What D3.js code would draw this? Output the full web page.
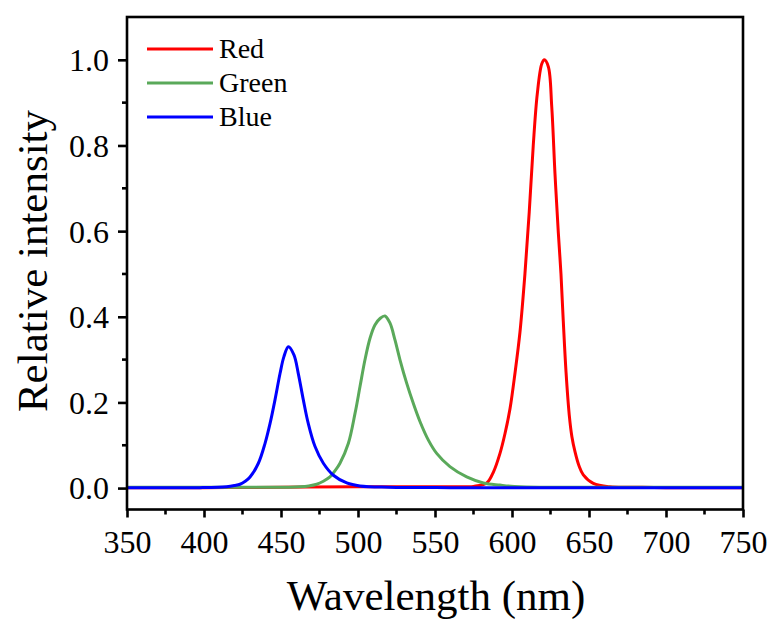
<!DOCTYPE html>
<html>
<head>
<meta charset="utf-8">
<script src="https://cdn.jsdelivr.net/npm/d3@7/dist/d3.min.js"></script>
<style>
  html, body { margin: 0; padding: 0; background: #fff; }
  svg { display: block; }
  text { font-family: "Liberation Serif", "Times New Roman", serif; fill: #000; }
</style>
</head>
<body>
<svg id="chart" width="772" height="623"></svg>
<script>
// Emission spectra of the three LED channels (normalised intensity)
const seriesNames = ["Red", "Green", "Blue"];
const seriesColors = ["#ff0000", "#5aa95a", "#0000ff"];

const redNm = [350, 400, 450, 500, 560, 575, 583.6, 588, 592.2, 595.5, 598.7, 602, 605.2, 608.4, 611.2, 613.8, 616.4, 619.3, 621,
  623.6, 625.8, 627.9, 630.1, 631.8, 633.3, 635.1, 637.2, 638.9, 640.9, 643.5, 646.3, 652.8, 663.6, 680, 700, 750];
const redI = [0.001, 0.001, 0.002, 0.003, 0.003, 0.004, 0.012, 0.038, 0.081, 0.128, 0.185, 0.27, 0.365, 0.50, 0.645, 0.80, 0.92, 0.99, 1.0,
  0.984, 0.891, 0.735, 0.595, 0.50, 0.39, 0.27, 0.17, 0.12, 0.085, 0.052, 0.031, 0.011, 0.003, 0.002, 0.001, 0.001];

const greenNm = [350, 400, 440, 455, 462.3, 468, 473.2, 477.5, 481.8, 485, 488.3, 493.7, 498.1, 501.3, 504.5, 507.8, 511, 514.3, 517.5,
  520.8, 524, 527.3, 531.6, 535.9, 540.3, 545.7, 551.1, 559.7, 570.6, 581.4, 592.2, 605.2, 650, 700, 750];
const greenI = [0.002, 0.002, 0.002, 0.002, 0.003, 0.005, 0.009, 0.016, 0.026, 0.04, 0.058, 0.104, 0.175, 0.237, 0.299, 0.350, 0.381, 0.396, 0.402,
  0.385, 0.346, 0.299, 0.245, 0.198, 0.155, 0.112, 0.081, 0.050, 0.026, 0.012, 0.007, 0.003, 0.002, 0.002, 0.002];

const blueNm = [350, 380, 397.4, 414.7, 420, 423.4, 426.8, 429.9, 435.3, 439.6, 442.9, 446.1, 449.4, 451.9, 454.8,
  458.4, 461.2, 464.5, 467.7, 472.1, 477.5, 484, 492.7, 501.3, 520, 560, 600, 650, 700, 750];
const blueI = [0.001, 0.001, 0.001, 0.003, 0.006, 0.009, 0.016, 0.026, 0.058, 0.104, 0.151, 0.206, 0.268, 0.307, 0.330,
  0.311, 0.268, 0.206, 0.151, 0.097, 0.058, 0.030, 0.012, 0.005, 0.002, 0.001, 0.001, 0.001, 0.001, 0.001];

const xTicks = [350, 400, 450, 500, 550, 600, 650, 700, 750];
const yTicks = [0.0, 0.2, 0.4, 0.6, 0.8, 1.0];
const xLabel = "Wavelength (nm)";
const yLabel = "Relative intensity";

const svg = d3.select("#chart");
const plotLeft = 127, plotRight = 743, plotTop = 17, plotBottom = 509.5;

const x = d3.scaleLinear().domain([350, 750]).range([plotLeft, plotRight]);
const y = d3.scaleLinear().domain([-0.05, 1.1]).range([plotBottom, plotTop]);

// spectra
const spectra = [
  redNm.map((w, i) => [w, redI[i]]),
  greenNm.map((w, i) => [w, greenI[i]]),
  blueNm.map((w, i) => [w, blueI[i]])
];
const line = d3.line().x(d => x(d[0])).y(d => y(d[1])).curve(d3.curveCatmullRom.alpha(0.5));

svg.append("g").selectAll("path").data(spectra).join("path")
  .attr("d", line)
  .attr("fill", "none")
  .attr("stroke", (d, i) => seriesColors[i])
  .attr("stroke-width", 3)
  .attr("stroke-linejoin", "round");

// axes
const axisW = 2.6;
const tickFont = "32px";
const minorX = d3.range(375, 750, 50);
const minorY = [0.1, 0.3, 0.5, 0.7, 0.9];

const xAxis = svg.append("g").attr("transform", `translate(0,${plotBottom})`)
  .call(d3.axisBottom(x).tickValues(xTicks).tickFormat(d3.format("d")).tickSize(8).tickPadding(6));
const yAxis = svg.append("g").attr("transform", `translate(${plotLeft},0)`)
  .call(d3.axisLeft(y).tickValues(yTicks).tickFormat(d3.format(".1f")).tickSize(9).tickPadding(9));

[xAxis, yAxis].forEach(g => {
  g.select(".domain").remove();
  g.selectAll("line").attr("stroke", "#000").attr("stroke-width", axisW);
  g.selectAll("text").style("font-family", '"Liberation Serif", "Times New Roman", serif')
    .style("font-size", tickFont).attr("fill", "#000");
});
xAxis.selectAll("text").attr("y", 43).attr("dy", 0);
yAxis.selectAll("text").attr("dy", "0.34em");

svg.append("g").selectAll("line").data(minorX).join("line")
  .attr("x1", d => x(d)).attr("x2", d => x(d))
  .attr("y1", plotBottom).attr("y2", plotBottom + 5)
  .attr("stroke", "#000").attr("stroke-width", axisW);
svg.append("g").selectAll("line").data(minorY).join("line")
  .attr("x1", plotLeft - 5).attr("x2", plotLeft)
  .attr("y1", d => y(d)).attr("y2", d => y(d))
  .attr("stroke", "#000").attr("stroke-width", axisW);

// frame
svg.append("rect")
  .attr("x", plotLeft).attr("y", plotTop)
  .attr("width", plotRight - plotLeft).attr("height", plotBottom - plotTop)
  .attr("fill", "none").attr("stroke", "#000").attr("stroke-width", axisW);

// axis titles
svg.append("text")
  .attr("x", 436).attr("y", 610)
  .attr("text-anchor", "middle")
  .style("font-size", "43px")
  .text(xLabel);
svg.append("text")
  .attr("transform", "translate(47,261) rotate(-90)")
  .attr("text-anchor", "middle")
  .style("font-size", "43px")
  .text(yLabel);

// legend
const legend = svg.append("g").selectAll("g").data(seriesNames).join("g")
  .attr("transform", (d, i) => `translate(147,${49 + i * 34})`);
legend.append("line")
  .attr("x1", 0).attr("x2", 66).attr("y1", 0).attr("y2", 0)
  .attr("stroke", (d, i) => seriesColors[i]).attr("stroke-width", 3);
legend.append("text")
  .attr("x", 72).attr("y", 0).attr("dy", "0.33em")
  .style("font-size", "28px")
  .text(d => d);
</script>
</body>
</html>
